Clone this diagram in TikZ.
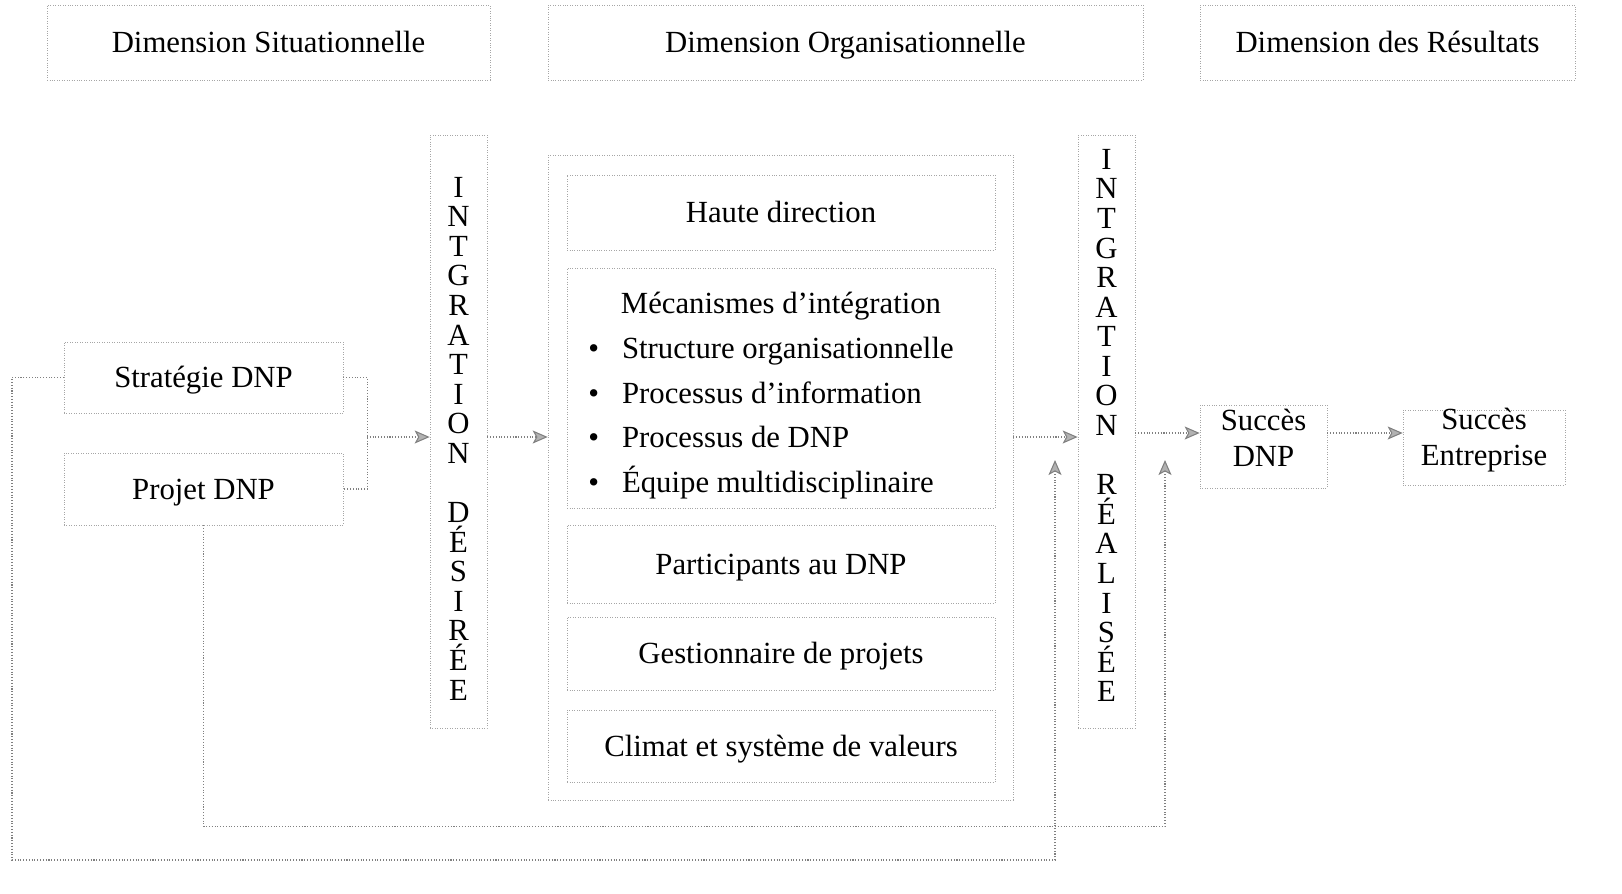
\documentclass[tikz,border=0pt]{standalone}
\usepackage{fontspec}
\setmainfont{Liberation Serif}
\usetikzlibrary{arrows.meta}
\begin{document}
\begin{tikzpicture}[x=0.02cm,y=-0.02cm,
 box/.style={draw=black!35,densely dotted,line width=0.4pt,inner sep=0pt,align=center,font=\fontsize{17.5}{20.4}\selectfont},
 one/.style={box,text height=11.6pt,text depth=0pt},
 lnk/.style={draw=black!50,densely dotted,line width=0.6pt},
 arr/.style={lnk,-{Stealth[length=0.3cm,width=0.26cm,inset=0.07cm,fill=black!30]}},
 vert/.style={box,font=\fontsize{17.5}{16.84}\selectfont,minimum width=1.14cm,minimum height=11.86cm}]
 \useasboundingbox (0,0) rectangle (1622,893);
 \node[one,minimum width=8.86cm,minimum height=1.5cm] (hsit) at (268.5,42.5) {Dimension Situationnelle};
 \node[one,minimum width=11.9cm,minimum height=1.5cm] (horg) at (845.5,42.5) {Dimension Organisationnelle};
 \node[one,minimum width=7.5cm,minimum height=1.5cm] (hres) at (1387.5,42.5) {Dimension des Résultats};
 \node[one,minimum width=5.58cm,minimum height=1.42cm] (strat) at (203.5,377.5) {Stratégie DNP};
 \node[one,minimum width=5.58cm,minimum height=1.44cm] (projet) at (203.5,489) {Projet DNP};
 \node[vert] (ides) at (458.5,431.5) {\raisebox{-0.14cm}[\height][\depth]{\parbox{1cm}{\centering I\\N\\T\\G\\R\\A\\T\\I\\O\\N\\\mbox{}\\D\\É\\S\\I\\R\\É\\E}}};
 \node[box,minimum width=9.3cm,minimum height=12.9cm] (org) at (780.5,477.5) {};
 \node[one,minimum width=8.56cm,minimum height=1.5cm] (haute) at (781,212.5) {Haute direction};
 \node[box,minimum width=8.56cm,minimum height=4.8cm,font=\fontsize{17.5}{25.6}\selectfont] (meca) at (781,388) {\raisebox{-0.12cm}[\height][\depth]{\begin{tabular}{@{}l@{\hspace{0.46cm}}l@{}}
 \multicolumn{2}{c}{\hspace{0.4cm}Mécanismes d’intégration}\\
 \textbullet & Structure organisationnelle\\
 \textbullet & Processus d’information\\
 \textbullet & Processus de DNP\\
 \textbullet & Équipe multidisciplinaire
 \end{tabular}}\hspace*{0.4cm}};
 \node[one,minimum width=8.56cm,minimum height=1.56cm] (partic) at (781,564) {Participants au DNP};
 \node[one,minimum width=8.56cm,minimum height=1.46cm] (gest) at (781,653.5) {Gestionnaire de projets};
 \node[one,minimum width=8.56cm,minimum height=1.44cm] (climat) at (781,746) {Climat et système de valeurs};
 \node[vert] (ireal) at (1106.5,431.5) {\raisebox{0.12cm}[\height][\depth]{\parbox{1cm}{\centering I\\N\\T\\G\\R\\A\\T\\I\\O\\N\\\mbox{}\\R\\É\\A\\L\\I\\S\\É\\E}}};
 \node[box,minimum width=2.54cm,minimum height=1.66cm] (sdnp) at (1263.5,446.5) {\raisebox{0.1cm}[\height][\depth]{\begin{tabular}{@{}c@{}}Succès\\DNP\end{tabular}}};
 \node[box,minimum width=3.24cm,minimum height=1.5cm] (sent) at (1484,447.5) {\raisebox{0.14cm}[\height][\depth]{\begin{tabular}{@{}c@{}}Succès\\Entreprise\end{tabular}}};
 \coordinate (jl) at (367,437);
 \coordinate (fa) at (1055,460);
 \coordinate (fb) at (1165,460);
 \draw[lnk] (strat.east) -- ++(24,0) |- (projet.east);
 \draw[arr] (jl) -- (jl -| ides.west);
 \draw[arr] (jl -| ides.east) -- (jl -| org.west);
 \draw[arr] (jl -| org.east) -- (jl -| ireal.west);
 \draw[arr] (ireal.east |- 0,433) -- (sdnp.west |- 0,433);
 \draw[arr] (sdnp.east |- 0,433) -- (sent.west |- 0,433);
 \draw[arr] (strat.west) -- (12,377.5) -- (12,860) -| (fa);
 \draw[arr] (projet.south) -- ++(0,301) -| (fb);
\end{tikzpicture}
\end{document}
